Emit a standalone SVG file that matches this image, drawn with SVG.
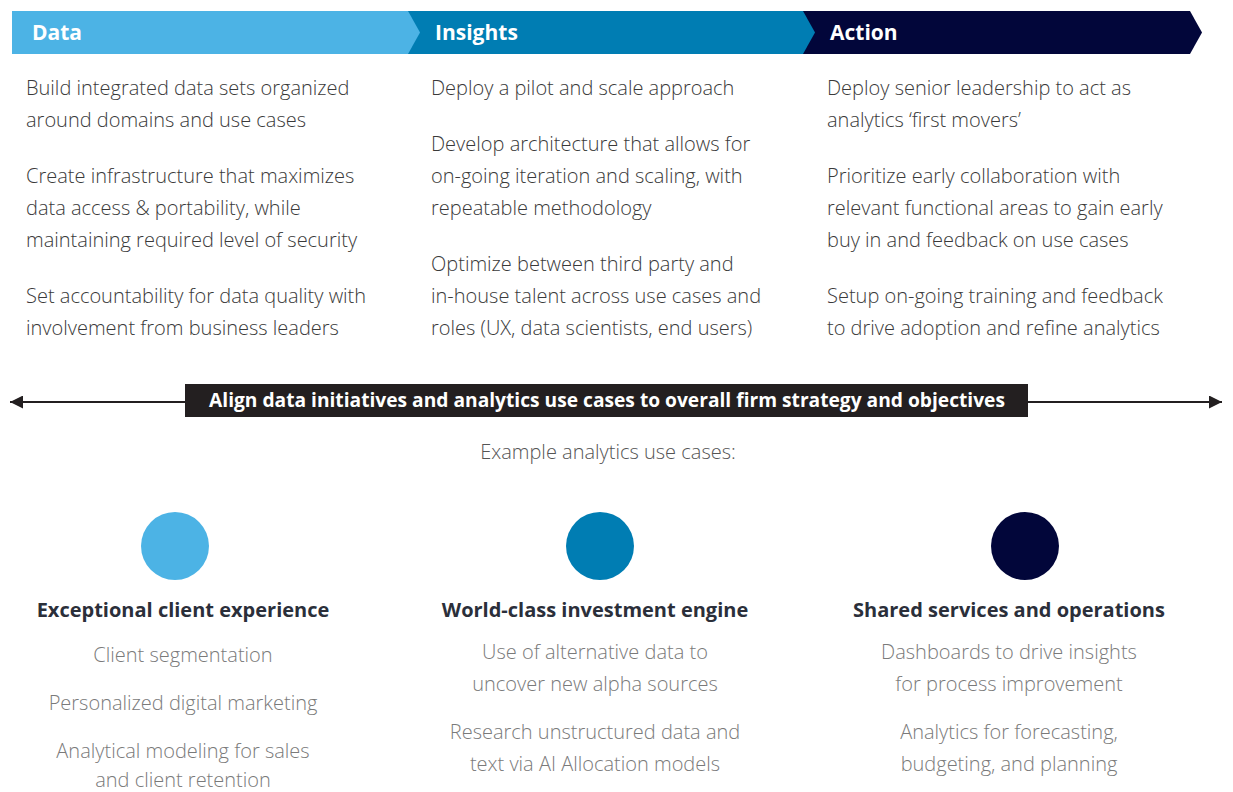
<svg xmlns="http://www.w3.org/2000/svg" width="1233" height="792" viewBox="0 0 1233 792">
<style>
.hdr{font-family:"Open Sans","Liberation Sans",sans-serif;font-weight:700;font-size:21px;fill:#fff}
.body{font-family:"Open Sans","Liberation Sans",sans-serif;font-weight:300;font-size:20px;fill:#3a3a3a}
.ttl{font-family:"Open Sans","Liberation Sans",sans-serif;font-weight:700;font-size:20px;fill:#2b2f3a;text-anchor:middle}
.item{font-family:"Open Sans","Liberation Sans",sans-serif;font-weight:300;font-size:20px;fill:#7a7a7a;text-anchor:middle}
.ex{font-family:"Open Sans","Liberation Sans",sans-serif;font-weight:300;font-size:20px;fill:#555;text-anchor:middle}
.band{font-family:"Open Sans","Liberation Sans",sans-serif;font-weight:700;font-size:19.2px;fill:#fff;text-anchor:middle}
</style>
<defs>
<marker id="ah" viewBox="0 0 10 10" refX="10" refY="5" markerWidth="19" markerHeight="13" markerUnits="userSpaceOnUse" orient="auto-start-reverse">
<path d="M0,0 L10,5 L0,10 Z" fill="#231f20"/>
</marker>
</defs>
<rect width="1233" height="792" fill="#fff"/>
<g id="action">
<polygon points="803,11 1190,11 1202,32.5 1190,54 803,54" fill="#02063a"/>
<text class="hdr" x="830" y="40">Action</text>
</g>
<g id="insights">
<polygon points="408,11 803,11 815,32.5 803,54 408,54" fill="#007db3"/>
<text class="hdr" x="435" y="40">Insights</text>
</g>
<g id="data">
<polygon points="12,11 408,11 420,32.5 408,54 12,54" fill="#4cb3e5"/>
<text class="hdr" x="32" y="40">Data</text>
</g>
<g id="data-text">
<text class="body" x="26" y="95">Build integrated data sets organized</text>
<text class="body" x="26" y="127">around domains and use cases</text>
<text class="body" x="26" y="183">Create infrastructure that maximizes</text>
<text class="body" x="26" y="215">data access &amp; portability, while</text>
<text class="body" x="26" y="247">maintaining required level of security</text>
<text class="body" x="26" y="303">Set accountability for data quality with</text>
<text class="body" x="26" y="335">involvement from business leaders</text>
</g>
<g id="insights-text">
<text class="body" x="431" y="95">Deploy a pilot and scale approach</text>
<text class="body" x="431" y="151">Develop architecture that allows for</text>
<text class="body" x="431" y="183">on-going iteration and scaling, with</text>
<text class="body" x="431" y="215">repeatable methodology</text>
<text class="body" x="431" y="271">Optimize between third party and</text>
<text class="body" x="431" y="303">in-house talent across use cases and</text>
<text class="body" x="431" y="335">roles (UX, data scientists, end users)</text>
</g>
<g id="action-text">
<text class="body" x="827" y="95">Deploy senior leadership to act as</text>
<text class="body" x="827" y="127">analytics ‘first movers’</text>
<text class="body" x="827" y="183">Prioritize early collaboration with</text>
<text class="body" x="827" y="215">relevant functional areas to gain early</text>
<text class="body" x="827" y="247">buy in and feedback on use cases</text>
<text class="body" x="827" y="303">Setup on-going training and feedback</text>
<text class="body" x="827" y="335">to drive adoption and refine analytics</text>
</g>
<g id="connectors">
<line x1="10" y1="402" x2="1222" y2="402" stroke="#231f20" stroke-width="2" marker-start="url(#ah)" marker-end="url(#ah)"/>
</g>
<g id="band">
<rect x="185" y="384" width="843" height="33" fill="#231f20"/>
<text class="band" x="607" y="407">Align data initiatives and analytics use cases to overall firm strategy and objectives</text>
</g>
<text class="ex" x="608" y="459">Example analytics use cases:</text>
<g id="client">
<circle cx="175" cy="546" r="34" fill="#4cb3e5"/>
<text class="ttl" x="183" y="617">Exceptional client experience</text>
<text class="item" x="183" y="662">Client segmentation</text>
<text class="item" x="183" y="710">Personalized digital marketing</text>
<text class="item" x="183" y="758">Analytical modeling for sales</text>
<text class="item" x="183" y="787">and client retention</text>
</g>
<g id="investment">
<circle cx="600" cy="546" r="34" fill="#007db3"/>
<text class="ttl" x="595" y="617">World-class investment engine</text>
<text class="item" x="595" y="659">Use of alternative data to</text>
<text class="item" x="595" y="691">uncover new alpha sources</text>
<text class="item" x="595" y="739">Research unstructured data and</text>
<text class="item" x="595" y="771">text via AI Allocation models</text>
</g>
<g id="shared">
<circle cx="1025" cy="546" r="34" fill="#02063a"/>
<text class="ttl" x="1009" y="617">Shared services and operations</text>
<text class="item" x="1009" y="659">Dashboards to drive insights</text>
<text class="item" x="1009" y="691">for process improvement</text>
<text class="item" x="1009" y="739">Analytics for forecasting,</text>
<text class="item" x="1009" y="771">budgeting, and planning</text>
</g>
</svg>
